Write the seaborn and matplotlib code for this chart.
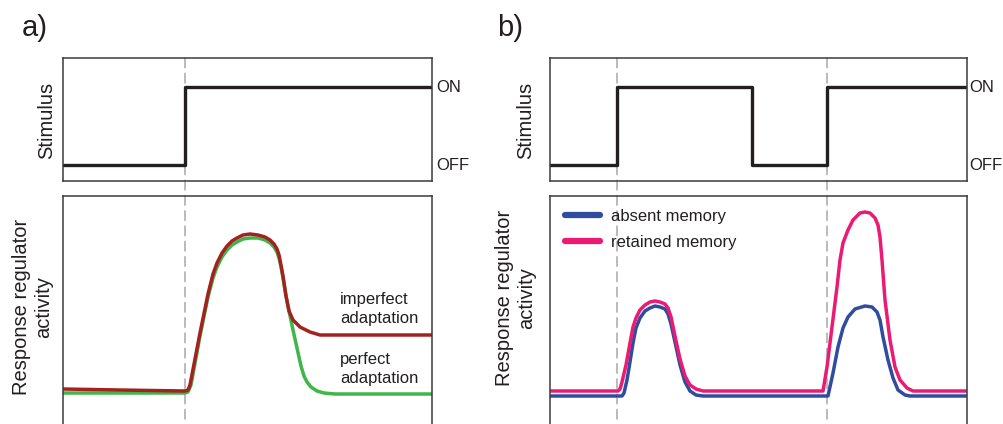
import matplotlib
matplotlib.use("Agg")
import matplotlib.pyplot as plt
from matplotlib.patches import ConnectionPatch
import seaborn as sns
import pandas as pd

sns.set_theme(style="white")
plt.rcParams['font.family'] = ['Liberation Sans', 'DejaVu Sans']

# ---------------- data (arbitrary time units) ----------------
# panel a: stimulus
stim_a_t = [0, 122, 369]
stim_a_v = [0, 1, 1]
step_a = [122]

# panel a: response regulator activity
red_t = [0, 57, 122, 125, 127, 137, 145, 150, 154, 159, 164, 169, 174, 180, 187,
         195, 202, 207, 211, 214, 216, 218, 220, 223, 226, 230, 237, 247, 257, 264, 369]
red_v = [35, 34, 33, 34, 39, 91, 130, 150, 161, 171, 178, 183, 186, 189, 190,
         189, 187, 184, 180, 175, 169, 159, 148, 128, 113, 104, 97, 92, 89, 89, 89]
green_t = [0, 122, 125, 128, 137, 145, 150, 154, 159, 164, 169, 174, 180, 187,
           195, 202, 207, 211, 214, 216, 218, 220, 223, 226, 230, 234, 238, 241,
           244, 248, 254, 261, 272, 369]
green_v = [31, 31, 32, 39, 88, 127, 146, 157, 167, 174, 179, 182, 185, 186,
           186, 184, 181, 177, 172, 166, 157, 146, 128, 113, 94, 76, 58, 48,
           42, 37, 33, 31, 30, 30]

# panel b: stimulus
stim_b_t = [0, 67, 202, 277, 417]
stim_b_v = [0, 1, 0, 1, 1]
step_b = [67, 277]

# panel b: response regulator activity
pink_t = [0, 68, 70, 72, 76, 80, 83, 86, 90, 95, 100, 105, 110, 115, 118, 121,
          125, 130, 135, 140, 146, 153, 273, 277, 282, 287, 290, 293, 298, 303,
          310, 315, 320, 325, 328, 330, 332, 335, 340, 345, 350, 357, 363, 417]
pink_v = [33, 33, 35, 42, 59, 81, 97, 106, 114, 119, 122, 123, 122, 120, 116, 107,
          88, 65, 48, 39, 35, 33, 33, 57, 97, 137, 164, 181, 194, 204,
          211, 212, 211, 206, 199, 187, 164, 124, 84, 57, 44, 36, 33, 33]
blue_t = [0, 72, 74, 77, 80, 83, 86, 90, 95, 100, 105, 110, 115, 118, 121, 125,
          130, 135, 140, 146, 153, 278, 283, 288, 293, 298, 305, 315, 322, 327,
          330, 333, 338, 343, 348, 355, 360, 417]
blue_v = [28, 28, 31, 44, 62, 81, 96, 106, 113, 116, 118, 117, 115, 110, 100, 82,
          59, 42, 33, 29, 28, 28, 51, 77, 96, 107, 115, 118, 117, 112,
          104, 87, 64, 46, 34, 29, 28, 28]

labels_a = ["imperfect\nadaptation", "perfect\nadaptation"]
labels_b = ["absent memory", "retained memory"]

# ---------------- styles ----------------
W, H = 1004, 424
INK = "#231f20"
SPINE = "#3a3a3a"
DASH = "#a0a0a0"
C_RED = "#a3211f"
C_GREEN = "#3fb54a"
C_BLUE = "#2f4c9f"
C_PINK = "#ec1a72"

fig = plt.figure(figsize=(W / 100, H / 100), dpi=100)

def px_axes(x0, x1, ytop, ybot):
    return fig.add_axes([x0 / W, (H - ybot) / H, (x1 - x0) / W, (ybot - ytop) / H])

axA_top = px_axes(63, 432, 58, 181)
axA_bot = px_axes(63, 432, 196, 424)
axB_top = px_axes(550, 967, 58, 181)
axB_bot = px_axes(550, 967, 196, 424)

for ax in (axA_top, axA_bot, axB_top, axB_bot):
    ax.patch.set_alpha(0)
    for s in ax.spines.values():
        s.set_color(SPINE)
        s.set_linewidth(1.1)
for ax in (axA_bot, axB_bot):
    ax.spines['bottom'].set_visible(False)

top_ylim = (-0.205, 1.372)
bot_ylim = (0, 228)

# stimulus traces
sns.lineplot(x=stim_a_t, y=stim_a_v, ax=axA_top, color=INK, lw=2.4,
             drawstyle='steps-post', estimator=None, sort=False)
sns.lineplot(x=stim_b_t, y=stim_b_v, ax=axB_top, color=INK, lw=2.4,
             drawstyle='steps-post', estimator=None, sort=False)
axA_top.set_xlim(0, 369); axA_top.set_ylim(*top_ylim)
axB_top.set_xlim(0, 417); axB_top.set_ylim(*top_ylim)

# responses a
sns.lineplot(x=green_t, y=green_v, ax=axA_bot, color=C_GREEN, lw=2.5,
             estimator=None, sort=False)
sns.lineplot(x=red_t, y=red_v, ax=axA_bot, color=C_RED, lw=2.5,
             estimator=None, sort=False)
axA_bot.set_xlim(0, 369); axA_bot.set_ylim(*bot_ylim)

# responses b
df_b = pd.concat([
    pd.DataFrame({"t": blue_t, "v": blue_v, "memory": labels_b[0]}),
    pd.DataFrame({"t": pink_t, "v": pink_v, "memory": labels_b[1]}),
])
sns.lineplot(data=df_b, x="t", y="v", hue="memory", ax=axB_bot,
             palette={labels_b[0]: C_BLUE, labels_b[1]: C_PINK}, lw=2.5,
             estimator=None, sort=False)
axB_bot.set_xlim(0, 417); axB_bot.set_ylim(*bot_ylim)
axB_bot.legend(loc='upper left', bbox_to_anchor=(0.036, 0.945), frameon=False,
               borderpad=0, borderaxespad=0, handlelength=2.1, handletextpad=0.65,
               labelspacing=0.69, fontsize=12)
for ln in axB_bot.get_legend().get_lines():
    ln.set_linewidth(4.5)
    ln.set_solid_capstyle('round')
for t in axB_bot.get_legend().get_texts():
    t.set_color(INK)

for ax in (axA_top, axA_bot, axB_top, axB_bot):
    ax.set_xlabel("")
    ax.set_ylabel("")
    ax.set_xticks([])
    ax.set_yticks([])

# dashed stimulus-change markers
def dashed(ax_top, ax_bot, t):
    con = ConnectionPatch(xyA=(t, 1), coordsA=ax_top.get_xaxis_transform(),
                          xyB=(t, 0), coordsB=ax_bot.get_xaxis_transform(),
                          color=DASH, lw=1.0, linestyle=(0, (7, 4)), zorder=-1)
    fig.add_artist(con)

for t in step_a:
    dashed(axA_top, axA_bot, t)
for t in step_b:
    dashed(axB_top, axB_bot, t)

# ON / OFF labels
for ax, dx in ((axA_top, 1.012), (axB_top, 1.006)):
    tr = ax.get_yaxis_transform()
    ax.text(dx, 1, "ON", transform=tr, ha='left', va='center', fontsize=12, color=INK)
    ax.text(dx, 0, "OFF", transform=tr, ha='left', va='center', fontsize=12, color=INK)

# y labels
for xc in (47, 526):
    fig.text(xc / W, (H - 120) / H, "Stimulus", rotation=90, ha='center',
             va='center', fontsize=14.5, color=INK)
for xc, yc in ((33, 307), (516, 298)):
    fig.text(xc / W, (H - yc) / H, "Response regulator\nactivity", rotation=90,
             ha='center', va='center', multialignment='center', fontsize=14.5,
             color=INK, linespacing=1.2)

# annotations panel a
axA_bot.text(277, 115, labels_a[0], fontsize=12, color=INK, ha='left', va='center',
             linespacing=1.3)
axA_bot.text(277, 55, labels_a[1], fontsize=12, color=INK, ha='left', va='center',
             linespacing=1.3)

# panel letters
fig.text(22 / W, (H - 36) / H, "a)", fontsize=21, color=INK, ha='left', va='baseline')
fig.text(497 / W, (H - 36) / H, "b)", fontsize=21, color=INK, ha='left', va='baseline')

fig.savefig("out.png", dpi=100)
